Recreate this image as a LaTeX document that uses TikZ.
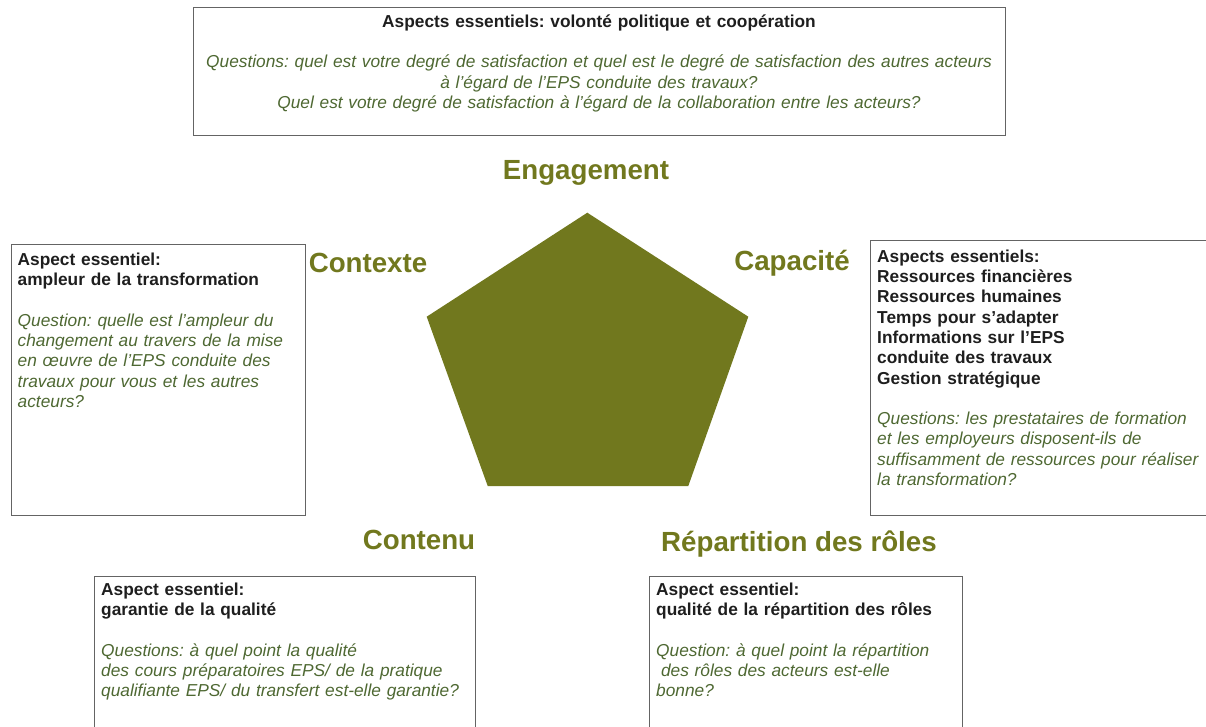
\documentclass[tikz,border=0pt]{standalone}
\usepackage{fontspec}
\setmainfont{Liberation Sans}
\frenchspacing
\definecolor{pentolive}{RGB}{113,120,30}
\definecolor{qgreen}{RGB}{78,104,50}
\definecolor{headblack}{RGB}{30,30,30}
\definecolor{boxgray}{RGB}{100,100,100}
\begin{document}
\begin{tikzpicture}[x=1pt,y=-1pt,
  box/.style={draw=boxgray, line width=1pt, anchor=north west, inner sep=0pt, outer sep=0pt},
  body/.style={anchor=north west, inner sep=0pt, align=left, text width=#1,
    font=\fontsize{17.3}{20.3}\selectfont\frenchspacing, text=headblack},
  body/.default=340pt,
  lbl/.style={anchor=base, inner sep=0pt, font=\fontsize{27.7}{32}\selectfont\bfseries, text=pentolive}]
\useasboundingbox (0,0) rectangle (1206,726);

% pentagon
\fill[pentolive] (587.3,212.7) -- (748.3,316.7) -- (688.3,486) -- (487.7,486) -- (426.7,316.7) -- cycle;

% boxes
\node[box, minimum width=812pt, minimum height=128pt] (topbox) at (193,7) {};
\node[box, minimum width=294pt, minimum height=271pt] (leftbox) at (11,244) {};
\node[box, minimum width=346pt, minimum height=275pt] (rightbox) at (870,240) {};
\node[box, minimum width=381pt, minimum height=170pt] (blbox) at (94,576) {};
\node[box, minimum width=313pt, minimum height=170pt] (brbox) at (649,576) {};

% top box text
\node[body=800pt, anchor=north, align=center] (toph) at (599,15)
  {\bfseries Aspects essentiels: volonté politique et coopération};
\node[body=800pt, anchor=north, align=center, text=qgreen] (topq) at (599,55)
  {\itshape Questions: quel est votre degré de satisfaction et quel est le degré de satisfaction des autres acteurs\\
   à l’égard de l’EPS conduite des travaux?\\
   Quel est votre degré de satisfaction à l’égard de la collaboration entre les acteurs?};

% left box text
\node[body] (lefttxt) at (17.5,252.5)
  {{\bfseries Aspect essentiel:\\ ampleur de la transformation}\\[20.3pt]
   {\color{qgreen}\itshape Question: quelle est l’ampleur du\\
   changement au travers de la mise\\
   en œuvre de l’EPS conduite des\\
   travaux pour vous et les autres\\
   acteurs?}};

% right box text
\node[body] (righttxt) at (877,249.5)
  {{\bfseries Aspects essentiels:\\ Ressources financières\\ Ressources humaines\\ Temps pour s’adapter\\
    Informations sur l’EPS\\ conduite des travaux\\ Gestion stratégique}\\[20.3pt]
   {\color{qgreen}\itshape Questions: les prestataires de formation\\
   et les employeurs disposent-ils de\\
   suffisamment de ressources pour réaliser\\
   la transformation?}};

% bottom left text
\node[body=370pt] (bltxt) at (101,582.5)
  {{\bfseries Aspect essentiel:\\ garantie de la qualité}\\[20.3pt]
   {\color{qgreen}\itshape Questions: à quel point la qualité\\
   des cours préparatoires EPS/ de la pratique\\
   qualifiante EPS/ du transfert est-elle garantie?}};

% bottom right text
\node[body=300pt] (brtxt) at (656,582.5)
  {{\bfseries Aspect essentiel:\\ qualité de la répartition des rôles}\\[20.3pt]
   {\color{qgreen}\itshape Question: à quel point la répartition\\
   \hspace*{0.28em}des rôles des acteurs est-elle\\
   bonne?}};

% labels
\node[lbl] (engagement) at (586,179) {Engagement};
\node[lbl] (contexte) at (368,272.5) {Contexte};
\node[lbl] (capacite) at (792,270) {Capacité};
\node[lbl] (contenu) at (419,549.5) {Contenu};
\node[lbl] (repartition) at (799,551) {Répartition des rôles};
\end{tikzpicture}
\end{document}
